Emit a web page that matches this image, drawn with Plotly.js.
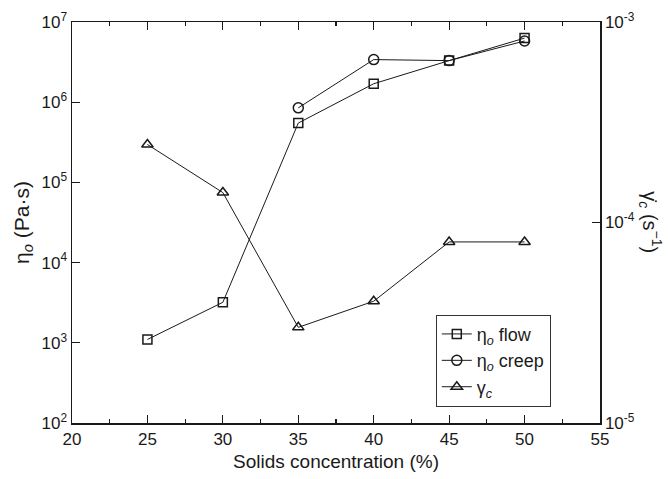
<!DOCTYPE html>
<html>
<head>
<meta charset="utf-8">
<script src="https://cdn.plot.ly/plotly-3.0.1.min.js"></script>
<style>html,body{margin:0;padding:0;background:#fff;}#chart{width:668px;height:479px;}</style>
</head>
<body>
<div id="chart"></div>
<script>
const solids = [25, 30, 35, 40, 45, 50];
const etaFlow = [1.1e3, 3.2e3, 5.5e5, 1.7e6, 3.3e6, 6.3e6];
const creepSolids = [35, 40, 45, 50];
const etaCreep = [8.5e5, 3.4e6, 3.3e6, 5.8e6];
const gammaC = [2.45e-4, 1.41e-4, 3.0e-5, 4.05e-5, 8.0e-5, 8.0e-5];

const leftTickVals = [1e2, 1e3, 1e4, 1e5, 1e6, 1e7];
const leftTickText = ['10<sup>2</sup>', '10<sup>3</sup>', '10<sup>4</sup>', '10<sup>5</sup>', '10<sup>6</sup>', '10<sup>7</sup>'];
const rightTickVals = [1e-5, 1e-4, 1e-3];
const rightTickText = ['10<sup>-5</sup>', '10<sup>-4</sup>', '10<sup>-3</sup>'];
const xTickVals = [20, 25, 30, 35, 40, 45, 50, 55];

function minorLogTicks(vals) {
  const out = [];
  for (let i = 0; i < vals.length - 1; i++) {
    for (let k = 2; k <= 9; k++) out.push(vals[i] * k);
  }
  return out;
}

const ink = '#1a1a1a';
const font = 'Liberation Sans, Arial, Helvetica, sans-serif';

const traces = [
  {x: solids, y: etaFlow, name: 'η<sub><i>o</i></sub> flow', mode: 'lines+markers',
   line: {color: ink, width: 1}, marker: {symbol: 'square-open', size: 9, color: ink, line: {width: 1.5}}},
  {x: creepSolids, y: etaCreep, name: 'η<sub><i>o</i></sub> creep', mode: 'lines+markers',
   line: {color: ink, width: 1}, marker: {symbol: 'circle-open', size: 10, color: ink, line: {width: 1.5}}},
  {x: solids, y: gammaC, name: 'γ<sub><i>c</i></sub>', yaxis: 'y2', mode: 'lines+markers',
   line: {color: ink, width: 1}, marker: {symbol: 'triangle-up-open', size: 10, color: ink, line: {width: 1.5}}}
];

const layout = {
  width: 668, height: 479,
  margin: {l: 72, r: 68, t: 22, b: 56},
  paper_bgcolor: '#fff', plot_bgcolor: '#fff',
  font: {family: font, color: ink, size: 17},
  showlegend: true,
  legend: {x: 0.689, y: 0.27, xanchor: 'left', yanchor: 'top', bgcolor: '#fff',
           bordercolor: '#333', borderwidth: 1, font: {size: 18, family: font}, tracegroupgap: 0},
  xaxis: {range: [20, 55], tickvals: xTickVals, ticks: 'inside', ticklen: 8, tickwidth: 1.2, tickcolor: ink,
          showline: true, linecolor: ink, linewidth: 1.5, mirror: 'ticks', showgrid: false, zeroline: false,
          minor: {dtick: 2.5, ticks: 'inside', ticklen: 4, tickwidth: 1.2, tickcolor: ink, showgrid: false},
          tickfont: {size: 17}, title: {text: 'Solids concentration (%)', font: {size: 19}, standoff: 7}},
  yaxis: {type: 'log', range: [2, 7], tickvals: leftTickVals, ticktext: leftTickText, ticks: 'inside', ticklen: 8,
          tickwidth: 1.2, tickcolor: ink, showline: true, linecolor: ink, linewidth: 1.5, showgrid: false, zeroline: false,
          tickfont: {size: 17}, title: {text: 'η<sub><i>o</i></sub> (Pa·s)', font: {size: 21}, standoff: 6}},
  yaxis2: {type: 'log', range: [-5, -3], overlaying: 'y', side: 'right', tickvals: rightTickVals, ticktext: rightTickText,
           ticks: 'inside', ticklen: 8, tickwidth: 1.2, tickcolor: ink, showline: true, linecolor: ink, linewidth: 1.5,
           showgrid: false, zeroline: false, tickfont: {size: 17}},
  yaxis3: {type: 'log', range: [2, 7], overlaying: 'y', side: 'left', tickvals: minorLogTicks(leftTickVals),
           ticks: 'inside', ticklen: 5, tickwidth: 1.2, tickcolor: ink, showticklabels: false, showline: false,
           showgrid: false, zeroline: false},
  yaxis4: {type: 'log', range: [-5, -3], overlaying: 'y', side: 'right', tickvals: minorLogTicks(rightTickVals),
           ticks: 'inside', ticklen: 5, tickwidth: 1.2, tickcolor: ink, showticklabels: false, showline: false,
           showgrid: false, zeroline: false},
  annotations: [{
    text: 'γ̇<sub><i>c</i></sub> (s<sup>−1</sup>)', xref: 'paper', yref: 'paper', x: 1.095, y: 0.5,
    xanchor: 'center', yanchor: 'middle', textangle: 90, showarrow: false, font: {size: 20, family: font, color: ink}
  }]
};

Plotly.newPlot('chart', traces, layout, {displayModeBar: false, staticPlot: true});
</script>
</body>
</html>
